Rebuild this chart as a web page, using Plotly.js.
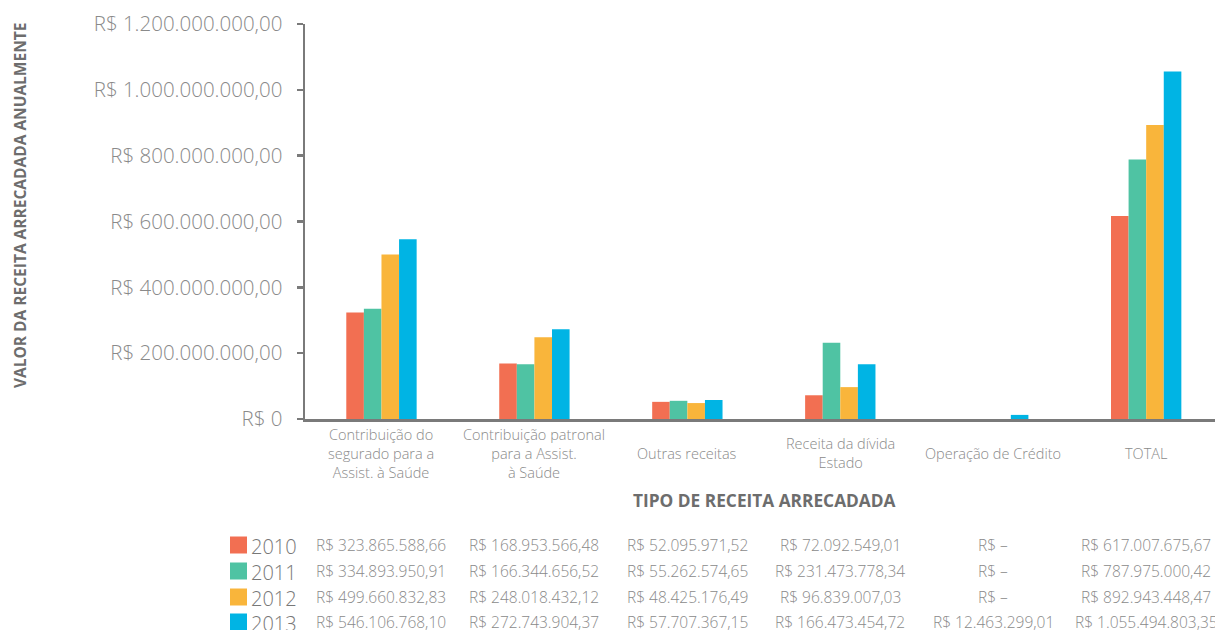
<!DOCTYPE html>
<html>
<head>
<meta charset="utf-8">
<script src="https://cdn.plot.ly/plotly-3.0.1.min.js"></script>
<style>
  html, body { margin: 0; padding: 0; background: #fff; }
  #chart { width: 1215px; height: 630px; }
</style>
</head>
<body>
<div id="chart"></div>
<script>
// Receita arrecadada por tipo, 2010–2013 (R$)
const categories = [
  'Contribuição do<br>segurado para a<br>Assist. à Saúde',
  'Contribuição patronal<br>para a Assist.<br>à Saúde',
  'Outras receitas',
  'Receita da dívida<br>Estado',
  'Operação de Crédito',
  'TOTAL'
];
const years = ['2010', '2011', '2012', '2013'];
const values2010 = [323865588.66, 168953566.48, 52095971.52, 72092549.01, 0, 617007675.67];
const values2011 = [334893950.91, 166344656.52, 55262574.65, 231473778.34, 0, 787975000.42];
const values2012 = [499660832.83, 248018432.12, 48425176.49, 96839007.03, 0, 892943448.47];
const values2013 = [546106768.10, 272743904.37, 57707367.15, 166473454.72, 12463299.01, 1055494803.35];
const yTickVals = [0, 200e6, 400e6, 600e6, 800e6, 1000e6, 1200e6];
const yTickText = ['R$ 0', 'R$ 200.000.000,00', 'R$ 400.000.000,00', 'R$ 600.000.000,00',
                   'R$ 800.000.000,00', 'R$ 1.000.000.000,00', 'R$ 1.200.000.000,00'];

const series = [values2010, values2011, values2012, values2013];
const colors = ['#F26F52', '#4FC3A3', '#F9B53B', '#00B4E4'];
const catIdx = categories.map((_, i) => i);

const LIGHT = 'Open Sans, Noto Sans, sans-serif';
const BOLD = 'Open Sans, Noto Sans, sans-serif';
const GREY = '#8a8a8a';

// Plot area in pixels (used to place the table and labels under it)
const PX_L = 305, PX_R = 1215, PX_T = 24, PX_B = 419;
const px = x => (x - PX_L) / (PX_R - PX_L);
const py = y => (PX_B - y) / (PX_B - PX_T);

// Brazilian currency formatting
function brl(v) {
  if (!v) return 'R$ –';
  const [int, dec] = v.toFixed(2).split('.');
  return 'R$ ' + int.replace(/\B(?=(\d{3})+(?!\d))/g, '.') + ',' + dec;
}

const traces = series.map((vals, k) => ({
  type: 'bar',
  name: years[k],
  x: catIdx,
  y: vals,
  marker: { color: colors[k], line: { width: 0 } },
  hoverinfo: 'skip'
}));

const annotations = [];
const shapes = [];

// category labels under the axis
categories.forEach((c, i) => {
  annotations.push({
    xref: 'x', yref: 'paper', x: i, y: py(453),
    text: c, showarrow: false, xanchor: 'center', yanchor: 'middle',
    font: { family: LIGHT, size: 14.5, color: GREY, weight: 300 }, align: 'center'
  });
});

// axis titles
annotations.push({
  xref: 'paper', yref: 'paper', x: px(764), y: py(500),
  text: 'TIPO DE RECEITA ARRECADADA', showarrow: false,
  xanchor: 'center', yanchor: 'middle',
  font: { family: BOLD, size: 17.3, color: '#6d6d6d', weight: 700 }
});
annotations.push({
  xref: 'paper', yref: 'paper', x: px(20), y: py(206),
  text: 'VALOR DA RECEITA ARRECADADA ANUALMENTE', showarrow: false, textangle: -90,
  xanchor: 'center', yanchor: 'middle',
  font: { family: BOLD, size: 15.5, color: '#6d6d6d', weight: 700 }
});

// data table with the year key
const rowY = [545, 571, 597, 622];
series.forEach((vals, k) => {
  const yc = rowY[k];
  shapes.push({
    type: 'rect', xref: 'paper', yref: 'paper',
    x0: px(230), x1: px(247), y0: py(yc + 8.5), y1: py(yc - 8.5),
    fillcolor: colors[k], line: { width: 0 }
  });
  annotations.push({
    xref: 'paper', yref: 'paper', x: px(249), y: py(yc + 1),
    text: years[k], showarrow: false, xanchor: 'left', yanchor: 'middle',
    font: { family: LIGHT, size: 20, color: '#777', weight: 300 }
  });
  vals.forEach((v, i) => {
    annotations.push({
      xref: 'x', yref: 'paper', x: i, y: py(yc),
      text: brl(v), showarrow: false, xanchor: 'center', yanchor: 'middle',
      font: { family: LIGHT, size: 15.5, color: GREY, weight: 300 }
    });
  });
});

const layout = {
  width: 1215, height: 630,
  margin: { l: PX_L, r: 1215 - PX_R, t: PX_T, b: 630 - PX_B, pad: 0 },
  paper_bgcolor: '#fff', plot_bgcolor: '#fff',
  showlegend: false,
  barmode: 'group', bargap: 0.54, bargroupgap: 0,
  xaxis: {
    range: [-0.5, 5.45], showticklabels: false, ticks: '',
    showgrid: false, zeroline: false,
    showline: true, linecolor: '#7a7a7a', linewidth: 2.5, fixedrange: true
  },
  yaxis: {
    range: [0, 1.2e9], tickvals: yTickVals, ticktext: yTickText,
    ticks: 'outside', ticklen: 6, tickwidth: 2.5, tickcolor: '#7a7a7a',
    showgrid: false, zeroline: false,
    showline: true, linecolor: '#7a7a7a', linewidth: 2.5,
    tickfont: { family: LIGHT, size: 20.5, color: GREY, weight: 300 },
    ticklabelstandoff: 10, fixedrange: true
  },
  annotations: annotations,
  shapes: shapes
};

Plotly.newPlot('chart', traces, layout, { displayModeBar: false, staticPlot: true });
</script>
</body>
</html>
